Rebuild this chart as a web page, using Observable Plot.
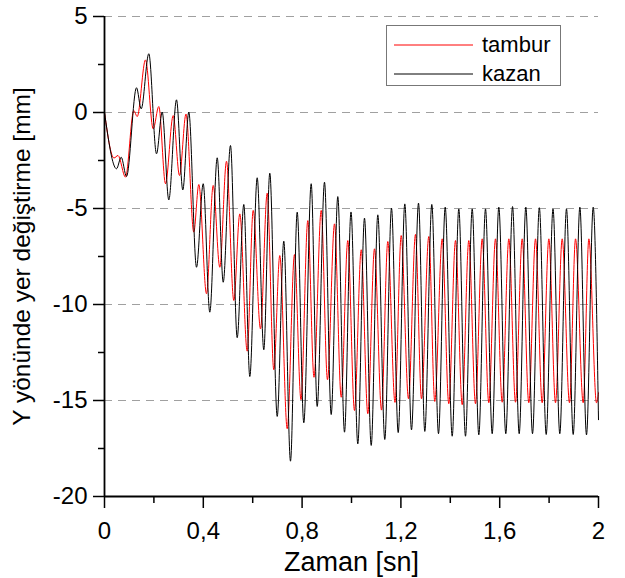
<!DOCTYPE html>
<html>
<head>
<meta charset="utf-8">
<script src="https://cdn.jsdelivr.net/npm/d3@7"></script>
<script src="https://cdn.jsdelivr.net/npm/@observablehq/plot@0.6"></script>
<style>
  body { margin: 0; background: #fff; }
  #wrap { position: relative; width: 625px; height: 578px; font-family: "Liberation Sans", Arial, sans-serif; }
  #legend { position: absolute; left: 386px; top: 25px; width: 175px; height: 61px; border: 1px solid #777; box-sizing: border-box; background: #fff; }
  #legend .row { position: absolute; left: 0; height: 26px; display: flex; align-items: center; font-size: 22px; color: #000; }
  #legend svg { margin-left: 7px; margin-right: 9px; }
</style>
</head>
<body>
<div id="wrap">
  <div id="legend">
    <div class="row" style="top:6px"><svg width="79" height="4"><line x1="0" x2="79" y1="2" y2="2" stroke="#ff0000" stroke-width="1"/></svg><span>tambur</span></div>
    <div class="row" style="top:35px"><svg width="79" height="4"><line x1="0" x2="79" y1="2" y2="2" stroke="#000" stroke-width="1"/></svg><span>kazan</span></div>
  </div>
</div>
<script>
// Series: extrema (time [s], displacement [mm])
const tamburTime = [0, 0.0385, 0.0547, 0.085, 0.1186, 0.1324, 0.166, 0.1972, 0.2198, 0.247,
  0.2781, 0.3036, 0.33, 0.3615, 0.3818, 0.413, 0.4401, 0.4668, 0.4939, 0.5235,
  0.5478, 0.5777, 0.602, 0.6316, 0.6587, 0.6854, 0.7097, 0.7397, 0.7692, 0.7955,
  0.8231, 0.8482, 0.8773, 0.9028, 0.9312, 0.9583, 0.985, 1.0121, 1.0393, 1.066,
  1.0931, 1.1215, 1.147, 1.1761, 1.2012, 1.2308, 1.2591, 1.2834, 1.313, 1.3372,
  1.3672, 1.3939, 1.4211, 1.4482, 1.4749, 1.502, 1.5291, 1.5559, 1.583, 1.6101,
  1.637, 1.664, 1.691, 1.7178, 1.745, 1.772, 1.799, 1.8259, 1.853, 1.8826,
  1.907, 1.938, 1.961, 1.9919, 2.0];
const tamburValue = [0, -2.37, -2.24, -3.37, 0.10, -0.21, 2.74, -0.85, 0.31, -3.71,
  -0.16, -3.28, -0.08, -6.23, -3.75, -9.44, -3.8, -8.06, -2.54, -9.79,
  -5.28, -12.43, -5.1, -11.27, -4.2, -13.4, -7.45, -16.47, -7.40, -14.96,
  -5.63, -13.79, -5.10, -13.92, -5.80, -14.83, -6.67, -15.52, -7.15, -15.69,
  -7.10, -15.5, -6.72, -15.1, -6.41, -14.91, -6.35, -14.91, -6.46, -15.05,
  -6.58, -15.17, -6.67, -15.22, -6.67, -15.17, -6.58, -15.12, -6.58, -15.09,
  -6.58, -15.09, -6.58, -15.12, -6.58, -15.12, -6.58, -15.12, -6.58, -15.12,
  -6.58, -15.12, -6.58, -15.12, -14.6];
const kazanTime = [0, 0.0486, 0.0676, 0.0891, 0.1296, 0.1486, 0.1794, 0.2105, 0.2336, 0.2603,
  0.2915, 0.317, 0.3413, 0.3725, 0.3996, 0.4263, 0.4563, 0.4806, 0.5101, 0.5372,
  0.564, 0.5883, 0.6182, 0.6449, 0.6692, 0.6992, 0.7259, 0.753, 0.7802, 0.8069,
  0.8368, 0.8611, 0.8907, 0.9178, 0.9445, 0.9717, 0.998, 1.0255, 1.0526, 1.0798,
  1.1065, 1.1348, 1.1619, 1.1891, 1.2158, 1.2429, 1.2713, 1.2968, 1.3251, 1.3522,
  1.3794, 1.4077, 1.4344, 1.4615, 1.4887, 1.5154, 1.5425, 1.5696, 1.5964, 1.6247,
  1.652, 1.6789, 1.7058, 1.7328, 1.7605, 1.7883, 1.8158, 1.8433, 1.8704, 1.8976,
  1.9245, 1.9514, 1.9785, 2.0];
const kazanValue = [0, -2.93, -2.33, -3.33, 1.29, 0.19, 3.06, -2.15, 0.02, -4.55,
  0.66, -4.03, 0.02, -8.06, -3.71, -10.4, -2.36, -8.84, -1.72, -11.73,
  -4.79, -13.75, -3.40, -12.36, -3.16, -15.83, -6.70, -18.16, -5.19, -16.16,
  -3.71, -15.31, -3.63, -15.73, -4.38, -16.65, -5.18, -17.26, -5.5, -17.34,
  -5.33, -17.03, -4.98, -16.67, -4.76, -16.53, -4.72, -16.61, -4.79, -16.73,
  -4.93, -16.86, -5.02, -16.86, -5.02, -16.79, -5.02, -16.73, -4.93, -16.73,
  -4.9, -16.73, -4.93, -16.73, -4.96, -16.77, -5.02, -16.73, -5.02, -16.77,
  -4.93, -16.79, -4.93, -16.0];

// Ticks
const xMajorTicks = [0, 0.4, 0.8, 1.2, 1.6, 2];
const xMinorTicks = [0.2, 0.6, 1.0, 1.4, 1.8];
const yMajorTicks = [-20, -15, -10, -5, 0, 5];
const yMinorTicks = [-17.5, -12.5, -7.5, -2.5, 2.5];
const gridValues = [-15, -10, -5, 0, 5];
const xTitle = "Zaman [sn]";
const yTitle = "Y yönünde yer değiştirme [mm]";

const tambur = tamburTime.map((t, i) => ({t, v: tamburValue[i]}));
const kazan = kazanTime.map((t, i) => ({t, v: kazanValue[i]}));
const fmt = d => String(d).replace(".", ",");

const chart = Plot.plot({
  width: 625,
  height: 578,
  marginLeft: 104,
  marginRight: 27,
  marginTop: 16,
  marginBottom: 82,
  style: {fontFamily: '"Liberation Sans", Arial, sans-serif', background: "#fff", color: "#000", fontSize: "24px"},
  x: {domain: [0, 2]},
  y: {domain: [-20, 5]},
  marks: [
    Plot.ruleY(gridValues, {stroke: "#a0a0a0", strokeWidth: 1, strokeDasharray: "8,6"}),
    Plot.line(tambur, {x: "t", y: "v", stroke: "#ff0000", strokeWidth: 1, curve: "monotone-x"}),
    Plot.line(kazan, {x: "t", y: "v", stroke: "#000000", strokeWidth: 1, curve: "monotone-x"}),
    Plot.axisX({ticks: xMajorTicks, tickSize: 12, tickPadding: 13, tickFormat: fmt, label: null, fontSize: 24, strokeWidth: 1.5}),
    Plot.axisX({ticks: xMinorTicks, tickSize: 7, tickFormat: () => "", label: null, strokeWidth: 1.5}),
    Plot.axisY({ticks: yMajorTicks, tickSize: 11, tickPadding: 6, tickFormat: d => String(d), label: null, fontSize: 24, strokeWidth: 1.5}),
    Plot.axisY({ticks: yMinorTicks, tickSize: 6, tickFormat: () => "", label: null, strokeWidth: 1.5}),
    Plot.ruleX([0], {stroke: "#000", strokeWidth: 1.8}),
    Plot.ruleY([-20], {stroke: "#000", strokeWidth: 1.8}),
    Plot.text([xTitle], {text: d => d, frameAnchor: "bottom", dy: 74, fontSize: 27}),
    Plot.text([yTitle], {text: d => d, frameAnchor: "left", textAnchor: "middle", dx: -82, rotate: -90, fontSize: 24.5})
  ]
});
document.getElementById("wrap").prepend(chart);
</script>
</body>
</html>
